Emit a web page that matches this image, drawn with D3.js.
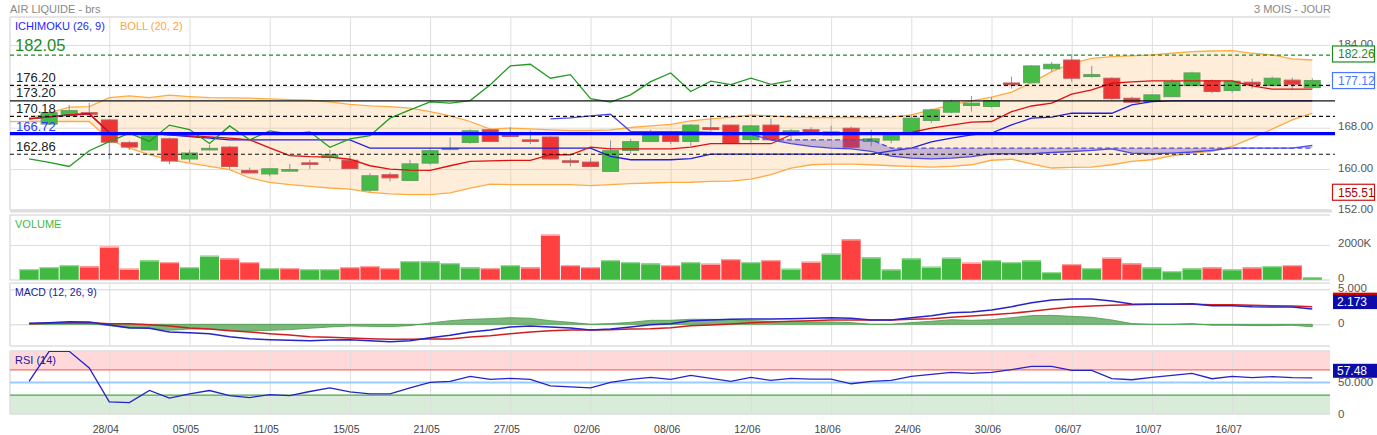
<!DOCTYPE html>
<html><head><meta charset="utf-8">
<script src="https://cdn.jsdelivr.net/npm/d3@7"></script>
<style>
body{margin:0;background:#fff;}
svg{display:block;font-family:"Liberation Sans",Arial,sans-serif;}
</style></head><body>
<svg id="c" width="1377" height="435"></svg>
<script>
// ---------- DATA ----------
const dates = ["22/04","23/04","24/04","27/04","28/04","29/04","30/04","04/05","05/05","06/05","07/05","08/05","11/05","12/05","13/05","14/05","15/05","18/05","19/05","20/05","21/05","22/05","25/05","26/05","27/05","28/05","29/05","01/06","02/06","03/06","04/06","05/06","08/06","09/06","10/06","11/06","12/06","15/06","16/06","17/06","18/06","19/06","22/06","23/06","24/06","25/06","26/06","29/06","30/06","01/07","02/07","03/07","06/07","07/07","08/07","09/07","10/07","13/07","14/07","15/07","16/07","17/07","20/07","21/07","22/07"];
const tickDates = ["28/04","05/05","11/05","15/05","21/05","27/05","02/06","08/06","12/06","18/06","24/06","30/06","06/07","10/07","16/07"];

const open  = [null,168.7,170.3,170.9,169.5,165.1,163.7,165.85,161.95,163.7,164.25,159.7,159.05,159.6,161.2,162.25,161.7,155.9,158.9,157.8,161.15,163.8,165.15,167.6,166.55,165.65,166.2,161.6,161.35,159.55,163.6,165.35,166.6,165.35,168.0,168.5,165.7,168.5,166.8,167.6,166.6,167.9,165.35,165.6,167.05,169.4,171.0,172.3,172.1,176.65,176.7,179.4,181.1,177.9,177.57,173.7,173.07,174.0,176.15,177.1,175.2,176.8,176.15,177.2,175.75];
const high  = [null,171.1,172.4,172.8,169.6,165.5,166.6,166.1,163.7,164.7,164.5,160.3,160.2,160.97,161.8,163.7,162.6,159.23,159.35,161.8,164.05,166.1,167.7,167.84,168.1,167.46,166.43,162.1,162.1,165.53,165.85,167.6,166.8,168.7,170.3,168.6,168.5,169.77,167.7,168.1,168.36,168.23,167.6,166.6,170.5,171.7,173.4,174.15,173.9,177.88,180.1,180.72,182.26,179.95,177.76,174.0,174.5,177.38,178.85,177.3,177.1,177.5,177.88,177.69,177.57];
const low   = [null,168.5,170.1,170.4,161.9,163.7,163.6,160.9,161.35,163.6,160.0,159.2,158.6,159.5,160.0,161.5,160.0,155.51,157.6,157.7,160.8,163.6,164.9,165.2,166.2,164.83,161.8,160.5,160.4,159.4,162.96,165.2,164.83,164.5,167.27,164.8,165.0,165.5,165.85,166.6,166.4,164.0,164.37,165.0,166.9,168.9,170.8,171.13,171.9,175.56,176.6,178.85,176.9,177.7,173.38,172.8,172.9,173.9,176.0,174.67,174.8,175.56,176.0,175.3,175.6];
const close = [null,170.9,171.3,170.6,165.2,164.25,166.4,161.55,163.1,164.0,160.5,159.25,160.05,159.9,160.9,162.8,160.1,158.7,158.3,161.0,163.55,164.0,167.4,165.35,166.3,165.35,161.95,161.3,160.5,163.55,165.3,166.95,165.35,168.5,167.65,164.95,168.35,165.65,167.4,166.8,167.2,164.2,165.85,166.45,169.85,171.45,173.0,172.75,173.25,176.3,179.95,180.27,177.57,178.27,173.63,172.94,174.35,176.9,178.6,175.0,177.0,176.35,177.57,176.4,177.12];

// volume in thousands
const volume = [617,732,847,772,1902,634,1118,1020,732,1383,1233,1020,674,674,617,617,732,790,674,1078,1060,962,715,674,847,715,2594,847,732,1135,1020,945,847,1020,922,1193,1020,1135,634,1037,1499,2328,1291,600,1233,749,1268,980,1135,1020,1118,444,905,674,1268,945,715,501,657,715,600,715,790,847,156];

const tenkan = [169.71,170.1,170.5,170.7,167.07,167.0,166.9,166.6,166.4,166.2,166.0,165.66,164.1,162.6,162.4,162.3,161.9,160.64,160.0,159.8,159.74,160.64,161.48,161.6,161.67,161.67,162.77,162.77,164.25,163.92,163.92,163.92,163.92,164.25,164.9,164.9,164.9,164.9,166.63,166.7,166.75,166.8,166.9,167.0,167.07,167.92,168.5,169.08,169.2,171.1,172.2,172.74,174.48,175.3,176.6,176.86,177.05,177.07,177.07,177.07,177.07,176.1,175.45,175.45,175.45];
const kijun = [169.71,170.1,170.5,170.7,167.07,167.0,166.9,166.6,166.3,166.0,165.66,165.66,165.66,165.66,165.66,165.66,165.66,164.05,164.05,164.05,164.05,164.05,164.05,164.05,164.05,164.05,164.05,164.05,164.05,162.44,161.8,161.8,161.8,162.0,162.9,162.9,162.9,162.9,162.9,162.9,162.9,162.9,162.9,163.5,164.05,165.27,166.0,166.6,166.95,168.56,169.85,170.04,170.8,170.8,170.8,172.4,173.06,173.2,173.2,173.2,173.2,173.2,173.2,173.2,173.2];
const senkouA = [null,null,null,null,null,null,null,null,null,null,null,null,null,null,null,null,null,null,null,null,null,null,null,null,null,null,169.7,169.9,170.3,170.6,167.26,167.26,167.26,167.26,167.1,166.9,166.7,165.66,164.9,164.4,164.05,163.9,163.4,162.5,162.1,161.95,162.1,162.4,162.96,162.96,162.96,163.2,163.4,163.6,163.9,163.1,162.96,163.1,163.3,163.6,164.05,164.05,164.05,164.05,164.56];
const senkouB = [null,null,null,null,null,null,null,null,null,null,null,null,null,null,null,null,null,null,null,null,null,null,null,null,null,null,null,null,null,null,null,null,null,null,null,null,null,165.66,165.66,165.66,165.66,165.66,165.66,164.05,164.05,164.05,164.05,164.05,164.05,164.05,164.05,164.05,164.05,164.05,164.05,164.05,164.05,164.05,164.05,164.05,164.05,164.05,164.05,164.05,164.05];
const chikou = [161.95,161.3,160.5,163.55,165.3,166.95,165.35,168.5,167.65,164.95,168.35,165.65,167.4,166.8,167.2,164.2,165.85,166.45,169.85,171.45,173.0,172.75,173.25,176.3,179.95,180.27,177.57,178.27,173.63,172.94,174.35,176.9,178.6,175.0,177.0,176.35,177.57,176.4,177.12];

const bollUpper = [169.9,170.8,171.97,172.09,173.83,174.15,173.83,174.29,174.02,173.83,173.77,173.71,173.57,173.44,173.32,173.0,172.5,172.22,172.09,171.78,171.13,170.3,169.2,167.73,167.92,167.78,167.59,167.46,167.46,167.59,168.04,168.36,168.65,169.33,169.71,170.04,170.43,170.3,170.04,169.97,169.97,169.97,169.97,170.04,170.49,171.45,172.42,173.19,173.9,174.9,176.72,178.85,180.46,181.43,181.75,181.88,182.07,182.4,182.7,182.84,182.9,182.4,182.07,181.3,181.1];
const bollLower = [169.2,169.2,169.2,169.2,165.66,164.05,162.77,161.8,161.16,160.5,159.87,158.27,157.42,156.97,156.65,156.33,156.1,155.49,155.18,155.05,155.05,155.37,156.33,157.1,156.97,156.97,156.97,156.97,156.78,156.97,157.17,157.3,157.42,157.45,157.61,157.67,158.07,158.9,160.2,160.83,160.97,160.97,160.83,160.64,160.5,160.38,160.5,160.83,161.7,161.9,161.0,160.2,160.31,160.38,160.83,161.48,161.8,162.57,163.09,163.4,164.37,165.99,167.73,169.52,170.8];

const macd = [0.14,0.23,0.38,0.33,-0.1,-0.48,-0.58,-1.1,-1.2,-1.34,-1.77,-2.05,-2.2,-2.29,-2.34,-2.24,-2.2,-2.34,-2.48,-2.34,-1.91,-1.58,-1.1,-0.81,-0.39,-0.24,-0.39,-0.53,-0.81,-0.67,-0.39,-0.05,0.09,0.52,0.61,0.71,0.76,0.76,0.8,0.85,0.95,0.85,0.61,0.61,0.95,1.23,1.66,1.76,2.04,2.52,3.09,3.47,3.61,3.61,3.33,2.9,2.85,2.85,2.95,2.66,2.66,2.52,2.47,2.47,2.173];
const signal = [0.09,0.14,0.19,0.23,0.09,0.09,-0.05,-0.24,-0.53,-0.67,-0.91,-1.1,-1.34,-1.53,-1.77,-1.86,-1.96,-2.05,-2.15,-2.15,-2.1,-2.1,-1.81,-1.62,-1.34,-1.1,-0.91,-0.81,-0.81,-0.77,-0.67,-0.62,-0.48,-0.2,-0.1,0.04,0.23,0.33,0.42,0.52,0.61,0.61,0.61,0.61,0.71,0.8,1.0,1.19,1.38,1.57,1.85,2.19,2.47,2.61,2.71,2.8,2.85,2.85,2.85,2.8,2.8,2.71,2.66,2.61,2.52];
const histo = [0.05,0.09,0.19,0.10,-0.19,-0.57,-0.53,-0.86,-0.67,-0.67,-0.86,-0.95,-0.86,-0.76,-0.57,-0.38,-0.24,-0.29,-0.33,-0.19,0.19,0.52,0.71,0.81,0.95,0.86,0.52,0.28,0,0.10,0.28,0.57,0.57,0.72,0.71,0.67,0.53,0.43,0.38,0.33,0.34,0.24,0,0,0.24,0.43,0.66,0.57,0.66,0.95,1.24,1.28,1.14,1.0,0.62,0.1,0,0,0.1,-0.14,-0.14,-0.19,-0.19,-0.14,-0.35];
const rsi = [51.7,99.5,99.5,73.1,19.2,18.1,37.3,25.1,32,37.3,29.3,26.1,30.9,29.3,35.7,41.6,35.2,32,32,41.6,50.1,51.7,59.7,54.9,56.5,54.9,44.8,43.2,41.6,50.1,54.9,58.1,54.9,61.3,56.5,51.7,58.1,53.3,56.5,55.5,55.5,48,51.7,53.3,59.7,62.9,66.1,64.5,66.1,70.4,75.7,75.7,69.3,69.3,56,54.4,58.1,61.3,64.5,56,59.7,57.6,59.2,57.6,57.48];

const dashedLevels = [176.20, 170.18, 162.86];
const solidLevel = 173.20;
const blueLevel = 166.72;
const greenLevel = 182.05;
const lastClose = 177.12, highest = 182.26, lowest = 155.51;

// ---------- LAYOUT ----------
const svg = d3.select("#c");
const L = 10, R = 1330;
const P = {main:[17,210], vol:[215,280], macd:[283,346], rsi:[351,414]};

const x = d3.scalePoint().domain(dates).range([29.1, 1312.3]);
const xi = i => x(dates[i]);
const yM = d3.scaleLinear().domain([152,184]).range([210.4,45]);
const yV = d3.scaleLinear().domain([0,2000]).range([279.7,245]);
const yD = d3.scaleLinear().domain([0,5]).range([324.3,289.3]);
const yR = d3.scaleLinear().domain([0,100]).range([414,351]);

const GRID = "#dedede";

const defs = svg.append("defs");
Object.entries(P).forEach(([k,[t,b]]) => {
  defs.append("clipPath").attr("id","clip-"+k).append("rect")
    .attr("x",L).attr("y",t).attr("width",R-L).attr("height",b-t);
});

// RSI zones
svg.append("rect").attr("x",L).attr("width",R-L).attr("y",yR(100)).attr("height",yR(70)-yR(100)).attr("fill","#ffd9d9");
svg.append("rect").attr("x",L).attr("width",R-L).attr("y",yR(30)).attr("height",yR(0)-yR(30)).attr("fill","#d9ecd9");

// vertical grid per panel
Object.entries(P).forEach(([k,[t,b]]) => {
  const g = svg.append("g").attr("transform",`translate(0,${b})`)
    .call(d3.axisBottom(x).tickValues(tickDates).tickSize(-(b-t)).tickFormat(""));
  g.select(".domain").remove();
  g.selectAll("line").attr("stroke",GRID).attr("stroke-width",1);
});

function hgrid(scale, vals, stroke){
  const g = svg.append("g").attr("transform",`translate(${R},0)`)
    .call(d3.axisLeft(scale).tickValues(vals).tickSize(R-L).tickFormat(""));
  g.select(".domain").remove();
  g.selectAll("line").attr("stroke",stroke||GRID).attr("stroke-width",1);
}
hgrid(yM,[184,176,168,160]);
hgrid(yV,[2000]);
hgrid(yD,[5,0],"#d4d4d4");

Object.entries(P).forEach(([k,[t,b]]) => {
  svg.append("line").attr("x1",L).attr("x2",R).attr("y1",t).attr("y2",t).attr("stroke",GRID).attr("stroke-width",1.5);
  svg.append("line").attr("x1",L).attr("x2",R).attr("y1",b).attr("y2",b).attr("stroke",GRID).attr("stroke-width",1.5);
  svg.append("line").attr("x1",L).attr("x2",L).attr("y1",t).attr("y2",b).attr("stroke",GRID).attr("stroke-width",1.5);
});
svg.append("rect").attr("x",L).attr("y",209.5).attr("width",R-L+2).attr("height",3).attr("fill","#dedede");

// ---------- MAIN ----------
const gm = svg.append("g").attr("clip-path","url(#clip-main)");
const idx = d3.range(dates.length);

gm.append("path").datum(idx)
  .attr("d", d3.area().x(i=>xi(i)).y0(i=>yM(bollLower[i])).y1(i=>yM(bollUpper[i])))
  .attr("fill","rgba(248,190,120,0.28)");
[bollUpper,bollLower].forEach(arr=>{
  gm.append("path").datum(idx)
    .attr("d", d3.line().x(i=>xi(i)).y(i=>yM(arr[i])))
    .attr("fill","none").attr("stroke","#ffab45").attr("stroke-width",1.3);
});
// lower band carried in from the left edge
gm.append("line").attr("x1",L).attr("x2",xi(0)).attr("y1",yM(bollLower[0])).attr("y2",yM(bollLower[0]))
  .attr("stroke","#ffab45").attr("stroke-width",1.3);

const cand = idx.filter(i=>open[i]!=null);
gm.selectAll(".wick").data(cand).join("line")
  .attr("x1",i=>xi(i)).attr("x2",i=>xi(i))
  .attr("y1",i=>yM(high[i])).attr("y2",i=>yM(low[i]))
  .attr("stroke","#8596a8").attr("stroke-width",1);
gm.selectAll(".body").data(cand).join("rect")
  .attr("x",i=>xi(i)-8).attr("width",16)
  .attr("y",i=>yM(Math.max(open[i],close[i])))
  .attr("height",i=>Math.max(1.2, Math.abs(yM(open[i])-yM(close[i]))))
  .attr("fill",i=>close[i]>=open[i] ? "#46bb46" : "#ef3434")
  .attr("stroke",i=>close[i]>=open[i] ? "#5fa05f" : "#c65a5a")
  .attr("stroke-width",1);

const ln = arr => d3.line().defined(i=>arr[i]!=null).x(i=>xi(i)).y(i=>yM(arr[i]));
gm.append("path").datum(idx).attr("d",ln(kijun)).attr("fill","none").attr("stroke","#1f1fe0").attr("stroke-width",1.3);
gm.append("path").datum(idx).attr("d",ln(tenkan)).attr("fill","none").attr("stroke","#e01010").attr("stroke-width",1.3);
gm.append("path").datum(idx).attr("d",ln(senkouA)).attr("fill","none").attr("stroke","#4a4aee").attr("stroke-width",1.3);
gm.append("path").datum(idx).attr("d",ln(senkouB)).attr("fill","none").attr("stroke","#4a4aee").attr("stroke-width",1.3).attr("stroke-dasharray","5,3");
const cloudIdx = idx.filter(i=>senkouA[i]!=null && senkouB[i]!=null);
gm.append("path").datum(cloudIdx)
  .attr("d", d3.area().x(i=>xi(i)).y0(i=>yM(senkouA[i])).y1(i=>yM(senkouB[i])))
  .attr("fill","rgba(95,70,190,0.33)");
gm.append("path").datum(d3.range(chikou.length))
  .attr("d", d3.line().x(i=>xi(i)).y(i=>yM(chikou[i])))
  .attr("fill","none").attr("stroke","#239b23").attr("stroke-width",1.3);

dashedLevels.forEach(v=>{
  svg.append("line").attr("x1",L).attr("x2",R+5).attr("y1",yM(v)).attr("y2",yM(v))
    .attr("stroke","#111").attr("stroke-width",1.2).attr("stroke-dasharray","4,3");
});
svg.append("line").attr("x1",L).attr("x2",R+5).attr("y1",yM(solidLevel)).attr("y2",yM(solidLevel)).attr("stroke","#111").attr("stroke-width",1.3);
svg.append("line").attr("x1",L).attr("x2",R+5).attr("y1",yM(greenLevel)).attr("y2",yM(greenLevel))
  .attr("stroke","#1e8a1e").attr("stroke-width",1.2).attr("stroke-dasharray","4,3");
svg.append("line").attr("x1",L).attr("x2",R+5).attr("y1",yM(blueLevel)-0.6).attr("y2",yM(blueLevel)-0.6).attr("stroke","#0000ff").attr("stroke-width",3.2);

const lvlLabels = [[176.20,"#222"],[173.20,"#222"],[170.18,"#222"],[166.72,"#2a3cff"],[162.86,"#222"]];
lvlLabels.forEach(([v,c])=>{
  svg.append("text").attr("x",16).attr("y",yM(v)-3.7).attr("font-size",13).attr("fill",c).text(v.toFixed(2));
});
svg.append("text").attr("x",15).attr("y",yM(greenLevel)-4).attr("font-size",16.5).attr("fill","#1e8a1e").text(greenLevel.toFixed(2));

function rightLabels(scale, vals, fmt, dy){
  svg.append("g").selectAll("text").data(vals).join("text")
    .attr("x",1338).attr("y",d=>scale(d)+(dy||3)).attr("font-size",11.5).attr("fill","#555").text(fmt);
}
rightLabels(yM,[184,168,160,152],d=>d.toFixed(2),2.5);
rightLabels(yV,[2000,0],d=>d===0?"0":d+"K",2);
rightLabels(yD,[5,0],d=>d===0?"0":d.toFixed(3),2.5);
rightLabels(yR,[50,0],d=>d===0?"0":d.toFixed(3),3.5);

function valBox(v, col, txtCol){
  const y = yM(v);
  svg.append("rect").attr("x",1332.5).attr("y",y-8).attr("width",42).attr("height",16)
    .attr("fill","#fff").attr("stroke",col).attr("stroke-width",1.2);
  svg.append("text").attr("x",1338).attr("y",y+4.3).attr("font-size",12).attr("fill",txtCol).text(v.toFixed(2));
}
valBox(highest,"#1e8a1e","#1e8a1e");
valBox(lastClose,"#4b78ff","#4b78ff");
valBox(lowest,"#cc1111","#b00000");

svg.append("text").attr("x",10).attr("y",13).attr("font-size",11).attr("fill","#888").text("AIR LIQUIDE - brs");
svg.append("text").attr("x",1331).attr("y",13).attr("font-size",11).attr("fill","#888").attr("text-anchor","end").text("3 MOIS - JOUR");
svg.append("text").attr("x",15).attr("y",29.5).attr("font-size",11).attr("fill","#2525ff").text("ICHIMOKU (26, 9)");
svg.append("text").attr("x",120).attr("y",29.5).attr("font-size",11).attr("fill","#ffa43a").text("BOLL (20, 2)");

// ---------- VOLUME ----------
const gv = svg.append("g").attr("clip-path","url(#clip-vol)");
const up = i => (i===0 || close[i-1]==null) ? true : close[i] >= close[i-1];
gv.selectAll(".vb").data(idx).join("rect")
  .attr("x",i=>xi(i)-9.5).attr("width",19)
  .attr("y",i=>yV(volume[i])).attr("height",i=>yV(0)-yV(volume[i]))
  .attr("fill",i=>up(i)?"#3fb93f":"#ff4040");
gv.selectAll(".vt").data(idx).join("rect")
  .attr("x",i=>xi(i)-9.5).attr("width",19)
  .attr("y",i=>yV(volume[i])).attr("height",1.3)
  .attr("fill",i=>up(i)?"#9ad89a":"#ffa3a3");
svg.append("text").attr("x",15).attr("y",228).attr("font-size",11).attr("fill","#3fb93f").text("VOLUME");

// ---------- MACD ----------
const gd = svg.append("g").attr("clip-path","url(#clip-macd)");
gd.append("path").datum(idx)
  .attr("d", d3.area().x(i=>xi(i)).y0(yD(0)).y1(i=>yD(histo[i])))
  .attr("fill","rgba(60,150,60,0.68)").attr("stroke","#4a9a4a").attr("stroke-width",0.8);
gd.append("path").datum(idx).attr("d", d3.line().x(i=>xi(i)).y(i=>yD(signal[i])))
  .attr("fill","none").attr("stroke","#d01e1e").attr("stroke-width",1.5);
gd.append("path").datum(idx).attr("d", d3.line().x(i=>xi(i)).y(i=>yD(macd[i])))
  .attr("fill","none").attr("stroke","#2424c8").attr("stroke-width",1.5);
svg.append("text").attr("x",15).attr("y",296).attr("font-size",10.5).attr("fill","#1a1aa0").text("MACD (12, 26, 9)");
const sLast = signal[signal.length-1], mLast = macd[macd.length-1];
svg.append("rect").attr("x",1333).attr("y",yD(sLast)-14).attr("width",44).attr("height",14).attr("fill","#d00000");
svg.append("rect").attr("x",1333).attr("y",yD(mLast)-14).attr("width",44).attr("height",14).attr("fill","#0c0caa");
svg.append("text").attr("x",1337).attr("y",yD(mLast)-3).attr("font-size",12).attr("fill","#fff").text(mLast.toFixed(3));

// ---------- RSI ----------
[[70,"#ff6b6b"],[50,"#99ccff"],[30,"#48a848"]].forEach(([v,c])=>{
  svg.append("line").attr("x1",L).attr("x2",R).attr("y1",yR(v)).attr("y2",yR(v)).attr("stroke",c).attr("stroke-width",v===50?1.8:1.2);
});
const gr = svg.append("g").attr("clip-path","url(#clip-rsi)");
gr.append("path").datum(idx).attr("d", d3.line().x(i=>xi(i)).y(i=>yR(rsi[i])))
  .attr("fill","none").attr("stroke","#2424c8").attr("stroke-width",1.3);
svg.append("text").attr("x",15).attr("y",364).attr("font-size",11).attr("fill","#1a1aa0").text("RSI (14)");
const rLast = rsi[rsi.length-1];
svg.append("rect").attr("x",1333).attr("y",yR(rLast)-14).attr("width",44).attr("height",14).attr("fill","#0c0caa");
svg.append("text").attr("x",1337).attr("y",yR(rLast)-3).attr("font-size",12).attr("fill","#fff").text(rLast.toFixed(2));

const xa = svg.append("g").attr("transform",`translate(0,${P.rsi[1]})`)
  .call(d3.axisBottom(x).tickValues(tickDates).tickSize(0).tickPadding(12));
xa.select(".domain").remove();
xa.selectAll("text").attr("font-size",10.5).attr("fill","#444").attr("dx",-4)
  .attr("font-family","Liberation Sans, Arial, sans-serif");
</script>
</body></html>
